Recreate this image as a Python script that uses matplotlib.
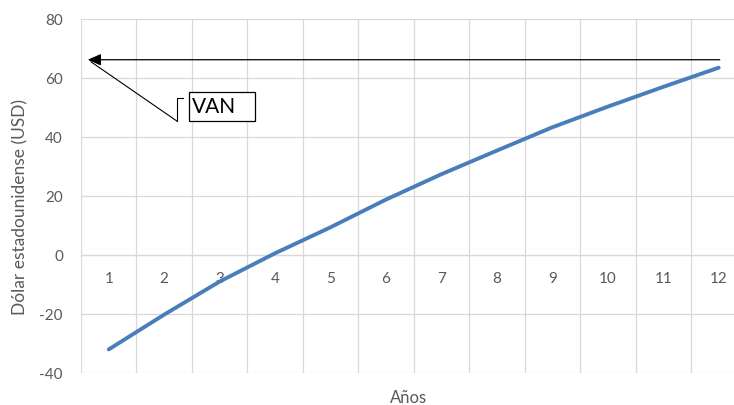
import numpy as np
import matplotlib.pyplot as plt
from matplotlib.patches import Rectangle

# valores
anios = [1, 2, 3, 4, 5, 6, 7, 8, 9, 10, 11, 12]
van = [-32.0, -20.2, -9.0, 0.6, 9.4, 18.8, 27.4, 35.4, 43.3, 50.3, 57.0, 63.5]
y_ticks = [-40, -20, 0, 20, 40, 60, 80]
nivel_flecha = 66.2

plt.rcParams['font.family'] = ['Lato', 'DejaVu Sans']
gris = '#595959'

fig = plt.figure(figsize=(7.34, 4.05), dpi=100)
ax = fig.add_axes([0.1104, 0.079, 0.9065, 0.874])

x = np.arange(len(anios)) + 1
ax.plot(x, van, color='#4a7ebb', lw=2.8, solid_capstyle='round',
        solid_joinstyle='round', zorder=3)

ax.set_xlim(0.5, len(anios) + 0.5)
ax.set_ylim(-40, 80)
ax.set_yticks(y_ticks)
ax.set_yticklabels([str(v) for v in y_ticks])

ax.set_xticks(x)
ax.set_xticklabels([str(a) for a in anios])
ax.set_xticks(np.arange(len(anios) + 1) + 0.5, minor=True)

for s in ['top', 'right', 'left']:
    ax.spines[s].set_visible(False)
ax.spines['bottom'].set_position(('data', 0))
ax.spines['bottom'].set_color('#d9d9d9')
ax.spines['bottom'].set_linewidth(0.9)

ax.tick_params(axis='x', which='both', length=0, pad=12, labelsize=11, labelcolor=gris)
ax.tick_params(axis='y', length=0, pad=13, labelsize=11, labelcolor=gris)
ax.grid(axis='y', color='#d9d9d9', lw=0.9)
ax.grid(axis='x', which='minor', color='#d9d9d9', lw=0.9)
ax.grid(axis='x', which='major', visible=False)
ax.set_axisbelow(True)

fig.text(0.028, 0.49, 'Dólar estadounidense (USD)', rotation=90, ha='center', va='center',
         fontsize=12.5, color=gris)
fig.text(0.556, 0.017, 'Años', ha='center', va='center', fontsize=12, color=gris)

# flecha del VAN
ax.annotate('', xy=(0.62, nivel_flecha), xytext=(12.02, nivel_flecha),
            arrowprops=dict(arrowstyle='-|>,head_length=0.8,head_width=0.35',
                            mutation_scale=10, color='black', lw=0.9,
                            shrinkA=0, shrinkB=0), zorder=4)

# llamada "VAN"
ax.plot([0.68, 2.23], [65.5, 45.4], color='black', lw=0.8, zorder=4)
ax.plot([2.33, 2.23, 2.23], [53.3, 53.3, 45.4], color='black', lw=0.8, zorder=4)
ax.add_patch(Rectangle((2.44, 45.4), 1.19, 9.8, facecolor='white', edgecolor='black',
                       lw=0.9, zorder=4))
ax.text(2.5, 50.3, 'VAN', ha='left', va='center', fontsize=15, color='black', zorder=5)

fig.savefig('out.png', dpi=100)
